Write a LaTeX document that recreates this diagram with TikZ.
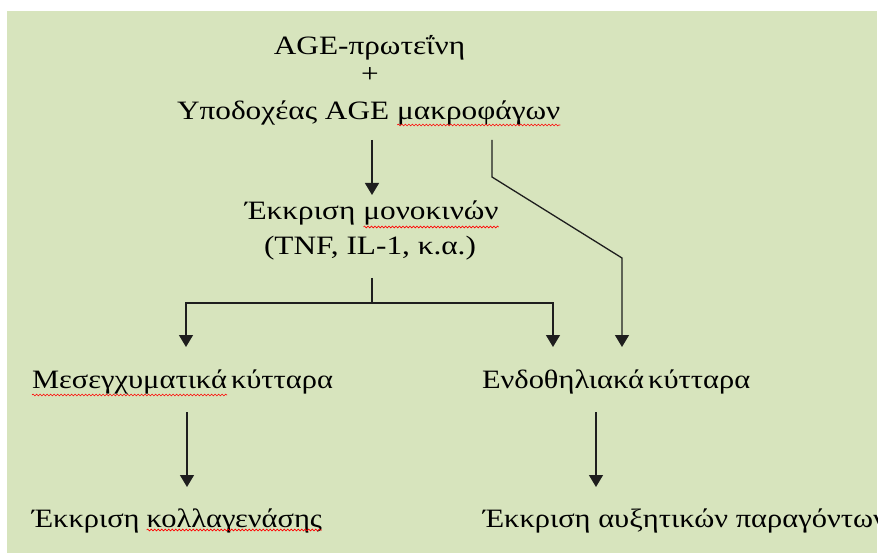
\documentclass[tikz,border=0pt]{standalone}
\usepackage{fontspec}
\setmainfont{Liberation Serif}
\newfontfamily\widetop[FakeStretch=1.18]{Liberation Serif}
\newfontfamily\widebot[FakeStretch=1.15]{Liberation Serif}
\usetikzlibrary{arrows.meta,calc,decorations.pathmorphing}
\definecolor{bggreen}{RGB}{215,228,189}
\definecolor{linegray}{RGB}{30,30,30}
\tikzset{
  txt/.style={inner sep=0pt, outer sep=0pt, font=\widetop\fontsize{26.5}{26.5}\selectfont, text=black},
  txtb/.style={inner sep=0pt, outer sep=0pt, font=\widebot\fontsize{26.5}{26.5}\selectfont, text=black},
  arr/.style={draw=linegray, line width=1.3pt, -{Triangle[width=14pt,length=12pt]}},
  conn/.style={draw=linegray, line width=1.3pt},
  squig/.style={draw=red, line width=0.6pt, decorate, decoration={snake, amplitude=0.9pt, segment length=3.5pt}}
}
\begin{document}
\begin{tikzpicture}[x=1pt,y=-1pt]
\useasboundingbox (0,0) rectangle (878,553);
\clip (0,0) rectangle (878,553);
\fill[white] (0,0) rectangle (878,553);
\fill[bggreen] (7,11) rectangle (877,553);

% top block
\node[txt, anchor=base] (t1) at (369.5,55) {AGE-πρωτεΐνη};
\node[txt, anchor=center] (t2) at (370,75) {+};
\node[txt, anchor=base west] (t3a) at (177,120) {Υποδοχέας AGE};
\node[txt, anchor=base west] (t3b) at ($(t3a.base east)+(8,0)$) {μακροφάγων};
% middle
\node[txt, anchor=base west] (t4a) at (245,220) {Έκκριση};
\node[txt, anchor=base west] (t4b) at ($(t4a.base east)+(8,0)$) {μονοκινών};
\node[txt, anchor=base] (t5) at (370,255) {(TNF, IL-1, κ.α.)};
% lower
\node[txtb, anchor=base west] (t6a) at (32,388) {Μεσεγχυματικά};
\node[txtb, anchor=base west] (t6b) at ($(t6a.base east)+(4,0)$) {κύτταρα};
\node[txtb, anchor=base west] (t7) at (482,388) {\spaceskip=4pt Ενδοθηλιακά κύτταρα};
\node[txtb, anchor=base west] (t8a) at (32,527) {Έκκριση};
\node[txtb, anchor=base west] (t8b) at ($(t8a.base east)+(7,0)$) {κολλαγενάσης};
\node[txtb, anchor=base west] (t9) at (483,527) {Έκκριση αυξητικών παραγόντων};

% spell-check underlines
\draw[squig] ($(t3b.base west)+(0,5)$) -- ($(t3b.base east)+(0,5)$);
\draw[squig] ($(t4b.base west)+(0,7)$) -- ($(t4b.base east)+(0,7)$);
\draw[squig] ($(t6a.base west)+(0,7)$) -- ($(t6a.base east)+(0,7)$);
\draw[squig] ($(t8b.base west)+(0,3)$) -- ($(t8b.base east)+(0,3)$);

% connector points
\coordinate (j1) at (372,303);
\coordinate (l1) at (186,303);
\coordinate (r1) at (553,303);
\coordinate (b1) at (492,177);
\coordinate (b2) at (622,258);
\coordinate (l2) at (187,412);
\coordinate (r2) at (596,412);

\draw[arr] ($(t3a.base -| j1)+(0,20)$) -- ($(t4a.base -| j1)+(0,-25)$);
\draw[arr] ($(t3b.base -| b1)+(0,20)$) -- (b1) -- (b2) -- ($(t7.base -| b2)+(0,-41)$);
\draw[conn] ($(t5.base -| j1)+(0,23)$) -- (j1);
\draw[arr] (j1) -- (l1) -- ($(t6a.base -| l1)+(0,-41)$);
\draw[arr] (j1) -- (r1) -- ($(t7.base -| r1)+(0,-41)$);
\draw[arr] (l2) -- ($(t8a.base -| l2)+(0,-40)$);
\draw[arr] (r2) -- ($(t9.base -| r2)+(0,-40)$);
\end{tikzpicture}
\end{document}
